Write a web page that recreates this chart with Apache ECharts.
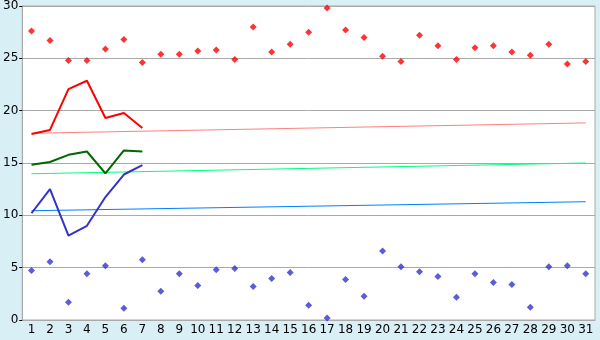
<!DOCTYPE html>
<html>
<head>
<meta charset="utf-8">
<script src="https://cdn.jsdelivr.net/npm/echarts@6/dist/echarts.min.js"></script>
<style>
  html, body { margin: 0; padding: 0; background: #d9eff6; }
  #chart { width: 600px; height: 340px; }
</style>
</head>
<body>
<div id="chart"></div>
<script>
const days = ['1','2','3','4','5','6','7','8','9','10','11','12','13','14','15','16','17','18','19','20','21','22','23','24','25','26','27','28','29','30','31'];

const highPoints = [27.6, 26.7, 24.8, 24.8, 25.9, 26.8, 24.6, 25.4, 25.4, 25.7, 25.8, 24.9, 28.0, 25.6, 26.35, 27.5,
  29.8, 27.7, 27.0, 25.2, 24.7, 27.2, 26.2, 24.9, 26.0, 26.2, 25.6, 25.3, 26.35, 24.45, 24.7];
const lowPoints = [4.72, 5.57, 1.70, 4.43, 5.19, 1.13, 5.75, 2.74, 4.43, 3.30, 4.81, 4.91, 3.21, 3.96, 4.53, 1.42,
  0.19, 3.87, 2.26, 6.60, 5.09, 4.62, 4.15, 2.17, 4.43, 3.58, 3.40, 1.23, 5.09, 5.19, 4.43];

const redLine = [17.78, 18.16, 22.06, 22.86, 19.3, 19.78, 18.35];
const greenLine = [14.83, 15.1, 15.78, 16.1, 14.0, 16.2, 16.1];
const blueLine = [10.2, 12.5, 8.06, 9.0, 11.75, 13.9, 14.8];

// trend lines: value at first and last day
const redTrend = [17.84, 18.83];
const greenTrend = [13.97, 15.0];
const blueTrend = [10.44, 11.3];

const yTicks = [0, 5, 10, 15, 20, 25, 30];

const chart = echarts.init(document.getElementById('chart'));

const trendData = (t) => [[days[0], t[0]], [days[days.length - 1], t[1]]];

chart.setOption({
  backgroundColor: '#d9eff6',
  animation: false,
  grid: {
    left: 20, right: 5, top: 5, bottom: 20,
    show: true, backgroundColor: '#ffffff', borderColor: '#aaaaaa', borderWidth: 1
  },
  xAxis: {
    type: 'category',
    data: days,
    boundaryGap: true,
    axisLine: { lineStyle: { color: '#aaaaaa', width: 1 } },
    axisTick: { alignWithLabel: true, length: 6, lineStyle: { color: '#000' } },
    axisLabel: { color: '#000', fontFamily: 'DejaVu Sans', fontSize: 12, margin: 4, interval: 0 },
    splitLine: { show: false }
  },
  yAxis: {
    type: 'value',
    min: yTicks[0], max: yTicks[yTicks.length - 1], interval: 5,
    axisLine: { show: true, lineStyle: { color: '#aaaaaa' } },
    axisTick: { show: true, length: 3, lineStyle: { color: '#000' } },
    axisLabel: { color: '#000', fontFamily: 'DejaVu Sans', fontSize: 12, margin: 4 },
    splitLine: { lineStyle: { color: '#aaaaaa', width: 1 } }
  },
  series: [
    { type: 'line', data: trendData(redTrend), symbol: 'none', lineStyle: { color: '#ff8080', width: 1 }, z: 1 },
    { type: 'line', data: trendData(greenTrend), symbol: 'none', lineStyle: { color: '#00ff80', width: 1 }, z: 1 },
    { type: 'line', data: trendData(blueTrend), symbol: 'none', lineStyle: { color: '#0080ff', width: 1 }, z: 1 },
    { type: 'line', data: redLine, symbol: 'none', lineStyle: { color: '#ff0000', width: 2 }, z: 2 },
    { type: 'line', data: greenLine, symbol: 'none', lineStyle: { color: '#006600', width: 2 }, z: 2 },
    { type: 'line', data: blueLine, symbol: 'none', lineStyle: { color: '#3333cc', width: 2 }, z: 2 },
    { type: 'scatter', data: highPoints, symbol: 'diamond', symbolSize: 7, itemStyle: { color: '#ff0000' }, z: 3 },
    { type: 'scatter', data: lowPoints, symbol: 'diamond', symbolSize: 7, itemStyle: { color: '#3333cc' }, z: 3 }
  ]
});
</script>
</body>
</html>
